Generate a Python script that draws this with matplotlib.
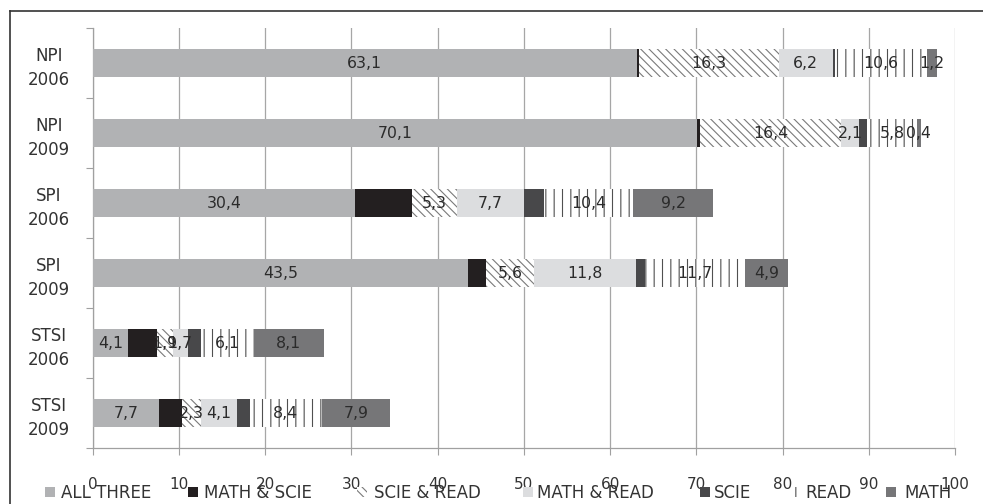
import matplotlib
matplotlib.use("Agg")
import matplotlib.pyplot as plt
from matplotlib.patches import Rectangle
from matplotlib.lines import Line2D
import numpy as np

plt.rcParams['font.family'] = ['DejaVu Sans']
plt.rcParams['hatch.linewidth'] = 0.8

categories = ["NPI\n2006", "NPI\n2009", "SPI\n2006", "SPI\n2009", "STSI\n2006", "STSI\n2009"]
series = ["ALL THREE", "MATH & SCIE", "SCIE & READ", "MATH & READ", "SCIE", "READ", "MATH"]

all_three   = [63.1, 70.1, 30.4, 43.5, 4.1, 7.7]
math_scie   = [0.2, 0.3, 6.6, 2.1, 3.3, 2.6]
scie_read   = [16.3, 16.4, 5.3, 5.6, 1.9, 2.3]
math_read   = [6.2, 2.1, 7.7, 11.8, 1.7, 4.1]
scie        = [0.3, 0.9, 2.3, 1.0, 1.6, 1.5]
read        = [10.6, 5.8, 10.4, 11.7, 6.1, 8.4]
math        = [1.2, 0.4, 9.2, 4.9, 8.1, 7.9]

values = [all_three, math_scie, scie_read, math_read, scie, read, math]
xticks = [0, 10, 20, 30, 40, 50, 60, 70, 80, 90, 100]

colors = ['#b1b2b4', '#231f20', 'white', '#dcdddf', '#48484a', 'white', '#767678']
hatches = [None, None, '\\\\\\\\', None, None, '||', None]
hatch_cols = [None, None, '#7a7a7a', None, None, '#505050', None]
show_label = [True, False, True, True, False, True, True]

W, H = 983, 504
fig = plt.figure(figsize=(W / 100, H / 100), dpi=100)
ax = fig.add_axes([92.7 / W, 1 - 448 / H, (955 - 92.7) / W, (448 - 28) / H])

y = np.arange(len(categories))
left = np.zeros(len(categories))
txtcol = '#2b2b2b'
for i, (name, vals) in enumerate(zip(series, values)):
    vals = np.array(vals)
    if hatches[i]:
        ax.barh(y, vals, left=left, height=0.4, color=colors[i], edgecolor=hatch_cols[i],
                linewidth=0, hatch=hatches[i], zorder=3)
    else:
        ax.barh(y, vals, left=left, height=0.4, color=colors[i], linewidth=0, zorder=3)
    if show_label[i]:
        for yy, l, v in zip(y, left, vals):
            ax.text(l + v / 2, yy, f"{v:.1f}".replace('.', ','), ha='center', va='center',
                    fontsize=11.3, color=txtcol, zorder=5)
    left = left + vals

ax.set_xlim(0, 100)
ax.set_ylim(len(categories) - 0.5, -0.5)
ax.set_xticks(xticks)
ax.set_xticklabels([str(t) for t in xticks], fontsize=11, color='#333333')
ax.tick_params(axis='x', length=5, width=0.8, color='#a0a0a0', pad=16)
ax.set_yticks(y)
ax.set_yticklabels(categories, fontsize=12, color='#333333', ha='center', linespacing=1.4)
ax.tick_params(axis='y', length=0, pad=31.5)
for t in ax.get_yticklabels():
    t.set_y(t.get_position()[1])
ax.set_yticks(np.arange(-0.5, len(categories) + 0.5, 1), minor=True)
ax.tick_params(axis='y', which='minor', length=5, width=0.8, color='#a0a0a0')
ax.grid(axis='x', color='#a6a6a6', linewidth=0.9, zorder=0)
ax.set_axisbelow(True)
for s in ['top', 'right']:
    ax.spines[s].set_visible(False)
for s in ['left', 'bottom']:
    ax.spines[s].set_color('#a0a0a0')
    ax.spines[s].set_linewidth(0.9)

# legend (manual placement)
leg_marker_x = [45, 188, 357, 523, 700, 793, 886]
leg_text_x = [61, 204, 374, 537, 714, 805, 904]
leg_y = 492
for i, name in enumerate(series):
    mw = 10 if i != 5 else 6
    r = Rectangle((leg_marker_x[i] / W, 1 - (leg_y + 5) / H), mw / W, 10 / H,
                  transform=fig.transFigure, facecolor=colors[i],
                  edgecolor=hatch_cols[i] if hatches[i] else 'none', linewidth=0,
                  hatch=hatches[i])
    fig.patches.append(r)
    fig.text(leg_text_x[i] / W, 1 - (leg_y + 1) / H, name, ha='left', va='center',
             fontsize=12, color='#333333')

# outer frame
fig.add_artist(Line2D([10 / W, 1.0], [1 - 11 / H, 1 - 11 / H], transform=fig.transFigure,
                      color='#333333', linewidth=1.2))
fig.add_artist(Line2D([10 / W, 10 / W], [1 - 11 / H, 0], transform=fig.transFigure,
                      color='#333333', linewidth=1.2))

fig.savefig("out.png", dpi=100)
